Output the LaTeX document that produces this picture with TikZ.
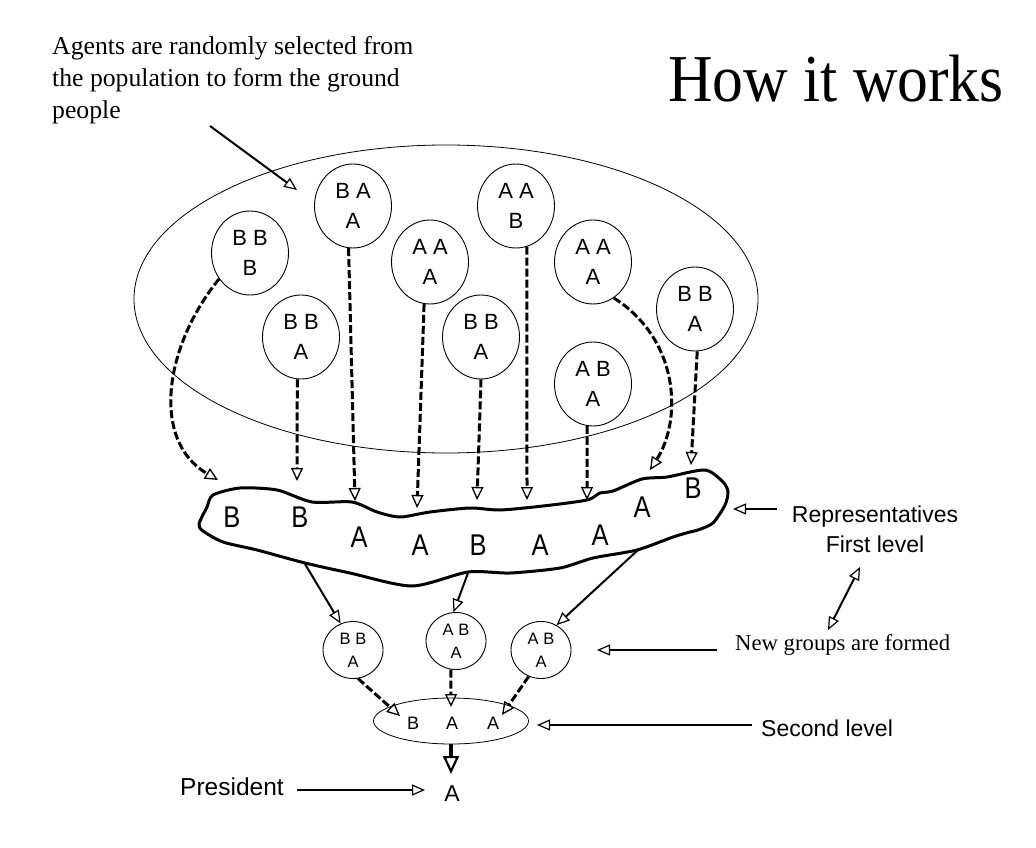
\documentclass[tikz,border=0pt]{standalone}
\usepackage{fontspec}
\setmainfont{Liberation Serif}
\newfontfamily\hv{Liberation Sans}
\newfontfamily\hvc[FakeStretch=0.85]{Liberation Sans}
\newfontfamily\tmc[FakeStretch=0.92]{Liberation Serif}
\usetikzlibrary{shapes.geometric,arrows.meta}
\tikzset{
  circ/.style={ellipse, draw, line width=0.9pt, minimum width=77pt, minimum height=84pt, inner sep=0pt, align=center, font=\hv\fontsize{22}{30}\selectfont},
  scirc/.style={ellipse, draw, line width=0.9pt, minimum width=60pt, minimum height=57pt, inner sep=0pt, align=center, font=\hv\fontsize{16.5}{23}\selectfont},
  darr/.style={line width=3pt, dash pattern=on 8pt off 3pt, -{Triangle[open, length=13pt, width=12pt, line width=1.3pt]}},
  sarr/.style={line width=2pt, -{Triangle[open, length=13pt, width=11pt, line width=1.2pt]}},
  bl/.style={font=\hvc\fontsize{30}{30}\selectfont, inner sep=0pt},
  lbl/.style={font=\hv\fontsize{23}{30}\selectfont, inner sep=0pt},
}
\begin{document}
\begin{tikzpicture}[x=1pt,y=-1pt]
\useasboundingbox (0,0) rectangle (1036,848);

% texts
\node[anchor=base west, align=left, inner sep=0pt, font=\fontsize{25.7}{32}\selectfont] (intro) at (52,119)
  {Agents are randomly selected from\\the population to form the ground\\people};
\node[anchor=base west, inner sep=0pt, font=\tmc\fontsize{67}{67}\selectfont] (title) at (668,102) {How it works};

% population ellipse
\node[ellipse, draw, line width=0.8pt, minimum width=624pt, minimum height=308pt, inner sep=0pt] (pop) at (446,299) {};

% agent groups
\node[circ] (c1) at (250,253) {B B\\B};
\node[circ] (c2) at (353,206) {B A\\A};
\node[circ] (c3) at (301,337) {B B\\A};
\node[circ] (c4) at (430,262) {A A\\A};
\node[circ] (c5) at (516,206) {A A\\B};
\node[circ] (c6) at (481,337) {B B\\A};
\node[circ] (c7) at (593,262) {A A\\A};
\node[circ] (c8) at (593,384) {A B\\A};
\node[circ] (c9) at (695,309) {B B\\A};

% representatives blob
\draw[line width=3pt, line join=round] plot[smooth cycle, tension=0.45] coordinates {
 (213,495) (240,488) (277,490) (312,502) (352,502) (377,512) (400,517) (430,512)
 (470,508) (500,510) (543,506) (587,500) (600,493) (613,491) (642,479) (667,477)
 (705,470) (723,482) (728,492) (725,505) (713,523) (698,530) (690,532) (673,537)
 (637,550) (593,558) (560,568) (510,573) (468,572) (412,586) (350,573) (305,563)
 (257,550) (223,542) (203,531) (199,524) (207,507)};
\node[bl] (r1) at (232,517) {B};
\node[bl] (r2) at (300,517) {B};
\node[bl] (r3) at (359,537) {A};
\node[bl] (r4) at (420,545) {A};
\node[bl] (r5) at (478,545) {B};
\node[bl] (r6) at (540,545) {A};
\node[bl] (r7) at (600,535) {A};
\node[bl] (r8) at (642,507) {A};
\node[bl] (r9) at (693,488) {B};

% tips on the blob
\coordinate (t1) at (218,480);
\coordinate (t3) at (297,481);
\coordinate (t2) at (355,501);
\coordinate (t4) at (417,508);
\coordinate (t6) at (477,500);
\coordinate (t5) at (527,500);
\coordinate (t8) at (587,500);
\coordinate (t7) at (650,470);
\coordinate (t9) at (691,465);

\draw[darr] (c1.-140) .. controls (165,345) and (150,440) .. (t1);
\draw[darr] (c3.-95) -- (t3);
\draw[darr] (c2.-96) -- (t2);
\draw[darr] (c4.-98) -- (t4);
\draw[darr] (c6.south) -- (t6);
\draw[darr] (c5.-75) -- (t5);
\draw[darr] (c8.-98) -- (t8);
\draw[darr] (c7.-60) .. controls (680,340) and (682,420) .. (t7);
\draw[darr] (c9.-87) -- (t9);

% new groups
\node[scirc] (s1) at (353,650) {B B\\A};
\node[scirc] (s2) at (456,641) {A B\\A};
\node[scirc] (s3) at (541,650) {A B\\A};

\coordinate (b1) at (305,564);
\coordinate (b2) at (468,573);
\coordinate (b3) at (638,550);
\draw[sarr] (b1) -- (s1.115);
\draw[sarr] (b2) -- (s2.95);
\draw[sarr] (b3) -- (s3.58);

% second level
\node[ellipse, draw, line width=0.8pt, minimum width=155pt, minimum height=46pt, inner sep=0pt] (lvl2) at (451,721) {};
\node[font=\hv\fontsize{18}{18}\selectfont, inner sep=0pt] (l1) at (413,723) {B};
\node[font=\hv\fontsize{18}{18}\selectfont, inner sep=0pt] (l2) at (452,723) {A};
\node[font=\hv\fontsize{18}{18}\selectfont, inner sep=0pt] (l3) at (493,723) {A};

\coordinate (u1) at (400,716);
\coordinate (u2) at (451,707);
\coordinate (u3) at (502,715);
\draw[darr] (s1.-80) -- (u1);
\draw[darr] (s2.-100) -- (u2);
\draw[darr] (s3.-115) -- (u3);

% president
\node[anchor=base, font=\hv\fontsize{23}{23}\selectfont, inner sep=0pt] (pres) at (452,801) {A};
\coordinate (pt) at (451,774);
\draw[line width=4.5pt, -{Triangle[open, length=18pt, width=16pt, line width=2.2pt]}] (lvl2.south) -- (pt);

% labels
\node[anchor=base, align=center, lbl] (rep) at (875,552) {Representatives\\First level};
\node[anchor=base west, inner sep=0pt, font=\fontsize{22.7}{28}\selectfont] (ng) at (735,650) {New groups are formed};
\node[anchor=base west, lbl] (sl) at (761,736) {Second level};
\node[anchor=base west, inner sep=0pt, font=\hv\fontsize{24.5}{28}\selectfont] (pl) at (180,795) {President};

\coordinate (a0) at (210,126);
\coordinate (a1) at (297,190);
\draw[sarr] (a0) -- (a1);
\coordinate (rp0) at (777,509);
\coordinate (rp1) at (733,509);
\draw[sarr] (rp0) -- (rp1);
\coordinate (d0) at (860,567);
\coordinate (d1) at (828,630);
\draw[line width=2pt, {Triangle[open, length=13pt, width=11pt, line width=1.2pt]}-{Triangle[open, length=13pt, width=11pt, line width=1.2pt]}] (d0) -- (d1);
\coordinate (n0) at (717,650);
\coordinate (n1) at (597,650);
\draw[sarr] (n0) -- (n1);
\coordinate (sl0) at (752,725);
\coordinate (sl1) at (537,725);
\draw[sarr] (sl0) -- (sl1);
\coordinate (p0) at (297,790);
\coordinate (p1) at (425,790);
\draw[sarr] (p0) -- (p1);
\end{tikzpicture}
\end{document}
